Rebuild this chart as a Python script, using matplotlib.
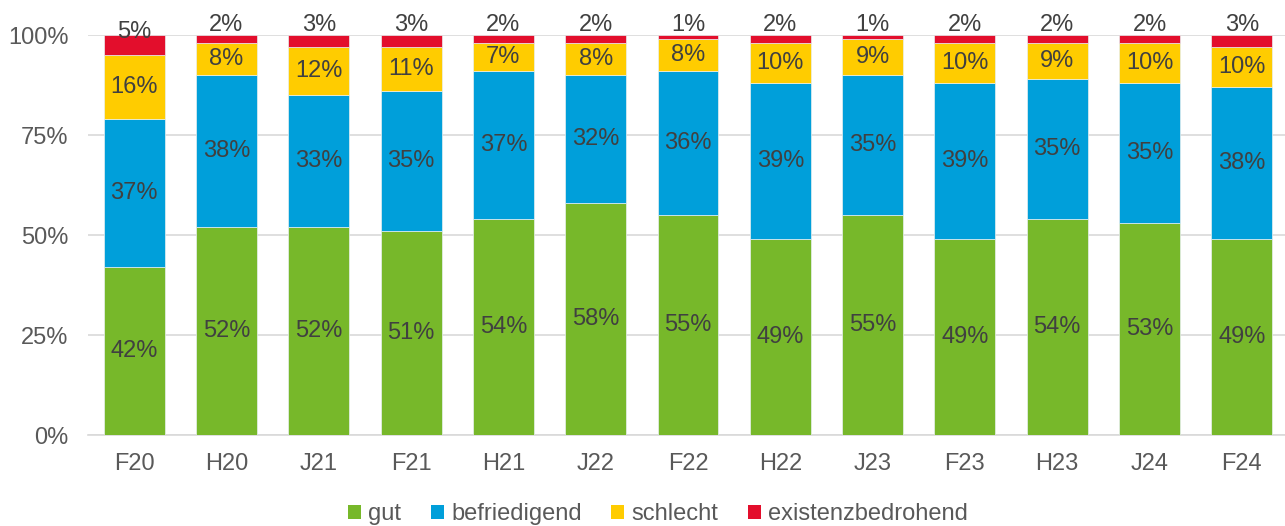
import matplotlib.pyplot as plt
import numpy as np
from matplotlib.patches import Patch

plt.rcParams["font.family"] = ["Liberation Sans", "DejaVu Sans"]

periods = ["F20", "H20", "J21", "F21", "H21", "J22", "F22", "H22", "J23", "F23", "H23", "J24", "F24"]
gut = [42, 52, 52, 51, 54, 58, 55, 49, 55, 49, 54, 53, 49]
befriedigend = [37, 38, 33, 35, 37, 32, 36, 39, 35, 39, 35, 35, 38]
schlecht = [16, 8, 12, 11, 7, 8, 8, 10, 9, 10, 9, 10, 10]
existenz = [5, 2, 3, 3, 2, 2, 1, 2, 1, 2, 2, 2, 3]

series = [
    ("gut", gut, "#77B82A"),
    ("befriedigend", befriedigend, "#009FDA"),
    ("schlecht", schlecht, "#FFCC00"),
    ("existenzbedrohend", existenz, "#E30E2C"),
]

fig = plt.figure(figsize=(12.85, 5.26), dpi=100)
ax = fig.add_axes([88 / 1285, 91 / 526, 1200 / 1285, 400 / 526])

x = np.arange(len(periods))
bottom = np.zeros(len(periods))
label_col = "#404040"

for name, vals, col in series:
    vals = np.array(vals, dtype=float)
    ax.bar(x, vals, 0.66, bottom=bottom, color=col, edgecolor="#e8f0f0",
           linewidth=0.5, zorder=3)
    for xi, b, v in zip(x, bottom, vals):
        # top segment labels sit above the bars
        if name == "existenzbedrohend":
            y = 100.7 if v >= 5 else 102.6
        else:
            y = b + v / 2
        ax.text(xi, y, f"{int(v)}%", ha="center", va="center", fontsize=17,
                color=label_col, zorder=4, clip_on=False)
    bottom += vals

ax.set_xlim(-0.5, len(periods) - 0.5)
ax.set_ylim(0, 100)
ax.set_yticks([0, 25, 50, 75, 100])
ax.set_yticklabels(["0%", "25%", "50%", "75%", "100%"])
ax.set_xticks(x)
ax.set_xticklabels(periods)
ax.tick_params(axis="y", length=0, pad=14, labelsize=17, labelcolor="#595959")
ax.tick_params(axis="x", length=0, pad=13, labelsize=17, labelcolor="#595959")
ax.grid(axis="y", color="#D9D9D9", linewidth=1.2, zorder=0)
for s in ["top", "right", "left"]:
    ax.spines[s].set_visible(False)
ax.spines["bottom"].set_color("#D9D9D9")
ax.spines["bottom"].set_linewidth(1.2)

handles = [Patch(facecolor=c, edgecolor="none", label=n) for n, _, c in series]
fig.legend(handles=handles, loc="center", bbox_to_anchor=(0.512, 0.022), ncol=4,
           frameon=False, fontsize=17, handlelength=0.55, handleheight=0.55,
           handletextpad=0.3, columnspacing=1.25, labelcolor="#595959",
           borderpad=0.1)

fig.savefig("out.png", dpi=100)
